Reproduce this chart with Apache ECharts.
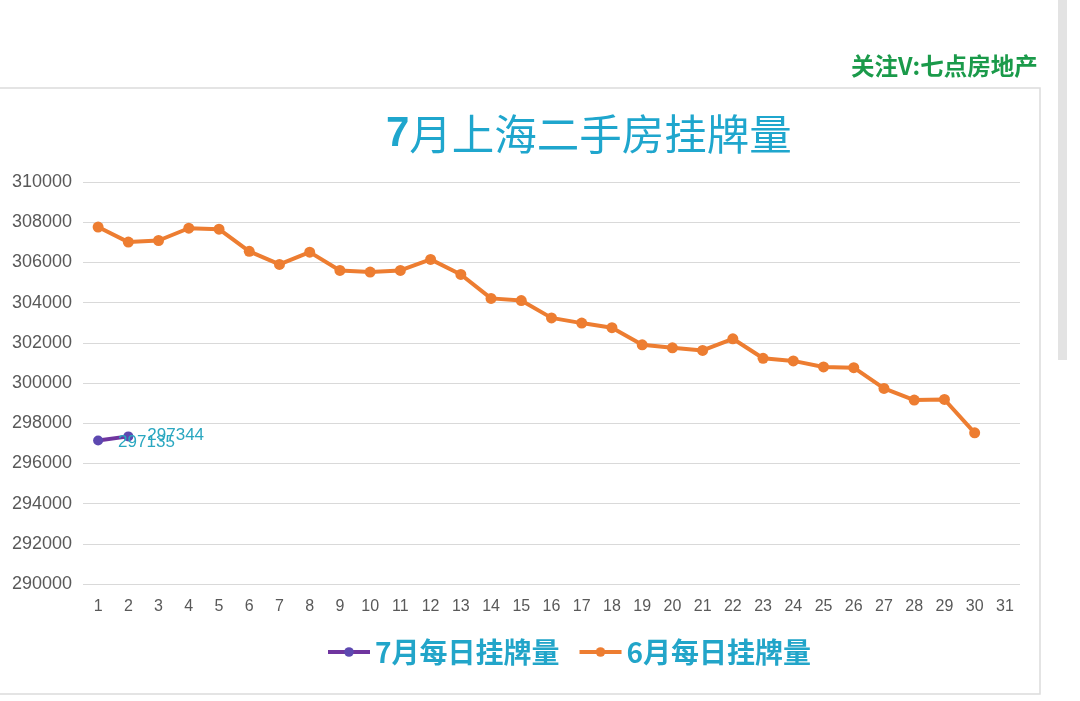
<!DOCTYPE html>
<html>
<head>
<meta charset="utf-8">
<script src="https://cdn.jsdelivr.net/npm/echarts@6/dist/echarts.min.js"></script>
<style>
  html, body { margin: 0; padding: 0; background: #fff; }
  #main { width: 1080px; height: 701px; }
</style>
</head>
<body>
<div id="main"></div>
<script>
// 日期
var days = []
for (var d = 1; d <= 31; d++) days.push(String(d))

// 7月每日挂牌量
var julyValues = [297135, 297344]

// 6月每日挂牌量
var juneValues = [307760, 307010, 307090, 307700, 307650, 306550, 305900, 306510, 305600, 305520,
    305600, 306150, 305400, 304210, 304100, 303240, 302980, 302750, 301900, 301750,
    301620, 302200, 301230, 301100, 300800, 300760, 299730, 299150, 299180, 297520]

var yMin = 290000
var yMax = 310000
var yStep = 2000

var font = 'Noto Sans CJK SC'
var numFont = 'Liberation Sans'

var myChart = echarts.init(document.getElementById('main'))

var option = {
    backgroundColor: '#fff',
    textStyle: { fontFamily: font },
    animation: false,
    title: {
        text: '{a|7}{b|月上海二手房挂牌量}',
        left: 381,
        top: 108,
        textStyle: {
            rich: {
                a: { fontSize: 42, fontWeight: 'bold', color: '#1fa6cd', fontFamily: numFont },
                b: { fontSize: 42.5, fontWeight: 'normal', color: '#1fa6cd', fontFamily: font }
            }
        }
    },
    // 外框、水印、滚动条
    graphic: [{
        type: 'rect',
        shape: { x: -2, y: 88, width: 1042, height: 606 },
        style: { fill: 'none', stroke: '#dcdcdc', lineWidth: 1.5 },
        z: -1
    }, {
        type: 'rect',
        shape: { x: 1058, y: 0, width: 9, height: 360 },
        style: { fill: '#e3e3e3' }
    }, {
        type: 'text',
        left: 851,
        top: 54,
        style: {
            text: '关注V:七点房地产',
            fill: '#1a9a4a',
            font: 'bold 23.5px "Noto Sans CJK SC"'
        }
    }],
    legend: {
        bottom: 30,
        left: 321,
        itemGap: 18,
        itemWidth: 42,
        itemHeight: 12,
        lineStyle: { width: 4 },
        textStyle: {
            fontSize: 28,
            fontWeight: 'bold',
            color: '#22a5c9',
            fontFamily: font
        },
        data: ['7月每日挂牌量', '6月每日挂牌量']
    },
    grid: {
        left: 83,
        right: 60,
        top: 182,
        bottom: 117
    },
    xAxis: {
        type: 'category',
        data: days,
        boundaryGap: true,
        axisLine: { show: false },
        axisTick: { show: false },
        axisLabel: { color: '#595959', fontSize: 16, margin: 15, interval: 0, fontFamily: numFont }
    },
    yAxis: {
        type: 'value',
        min: yMin,
        max: yMax,
        interval: yStep,
        axisLine: { show: false },
        axisTick: { show: false },
        axisLabel: {
            color: '#595959',
            fontSize: 18,
            margin: 11,
            fontFamily: numFont,
            formatter: function (v) { return String(v) }
        },
        splitLine: { lineStyle: { color: '#d9d9d9', width: 1.2 } }
    },
    series: [{
        name: '7月每日挂牌量',
        type: 'line',
        data: [{
            value: julyValues[0],
            label: { offset: [10, 2] }
        }, {
            value: julyValues[1],
            label: { offset: [9, -1] }
        }],
        symbol: 'circle',
        symbolSize: 10,
        lineStyle: { color: '#6f359f', width: 4 },
        itemStyle: { color: '#5d48b0' },
        label: {
            show: true,
            position: 'right',
            color: '#2aa7c0',
            fontSize: 17,
            fontFamily: numFont
        },
        z: 3
    }, {
        name: '6月每日挂牌量',
        type: 'line',
        data: juneValues,
        symbol: 'circle',
        symbolSize: 11,
        lineStyle: { color: '#ed7d31', width: 4 },
        itemStyle: { color: '#ed7d31' }
    }]
}

myChart.setOption(option)
</script>
</body>
</html>
